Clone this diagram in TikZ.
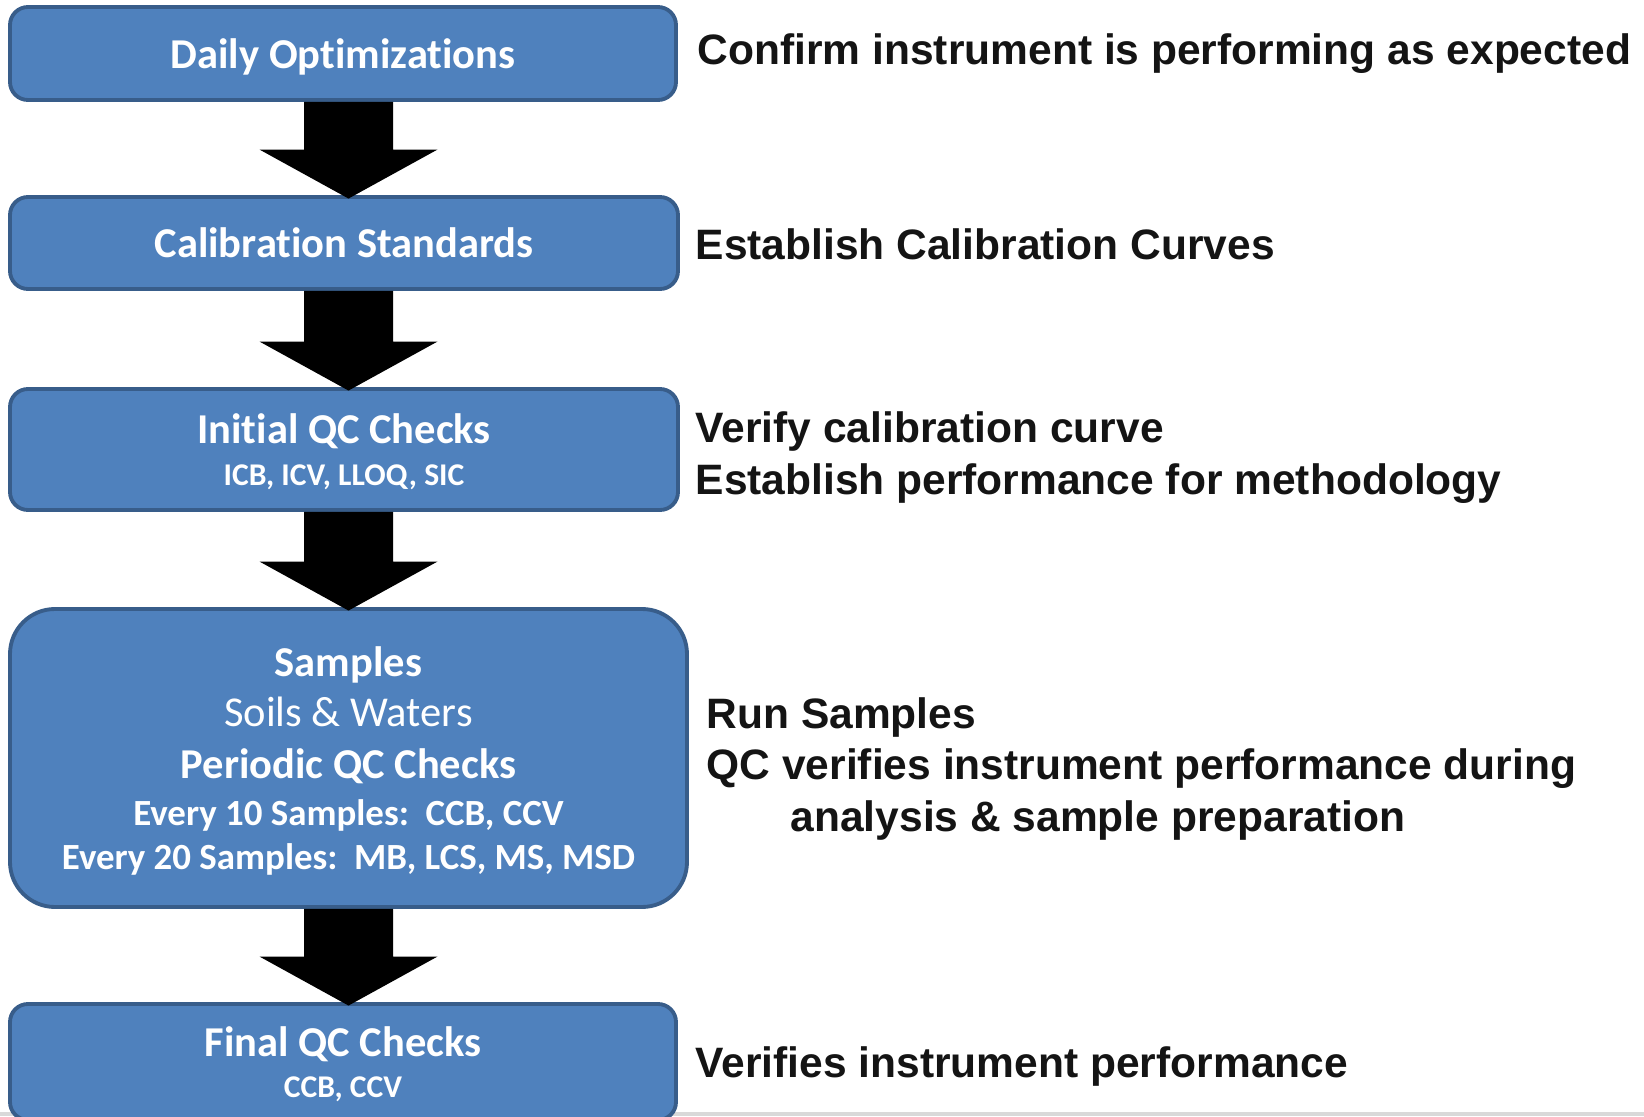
\documentclass[tikz,border=0pt]{standalone}
\usepackage{fontspec}
\usetikzlibrary{positioning, calc}
\newfontfamily\calibrifont[Ligatures=NoCommon]{Carlito}
\newfontfamily\arialfont{Liberation Sans}
\definecolor{boxfill}{HTML}{4F81BD}
\definecolor{boxedge}{HTML}{385D8A}
\definecolor{notegray}{HTML}{141414}
\definecolor{rulegray}{HTML}{D9D9D9}
\newcommand\boxtitle{\calibrifont\bfseries\fontsize{12.1}{14.5}\selectfont}
\newcommand\boxplain{\calibrifont\mdseries\fontsize{12.1}{14.5}\selectfont}
\newcommand\boxmid{\calibrifont\bfseries\fontsize{10.5}{12.5}\selectfont}
\newcommand\boxsmall{\calibrifont\bfseries\fontsize{9}{11}\selectfont}
\newcommand\notefont{\arialfont\bfseries\fontsize{12.1}{14.6}\selectfont}
\tikzset{
  stepbox/.style={
    rectangle,
    rounded corners = 0.18cm,
    draw = boxedge,
    fill = boxfill,
    line width = 1.1pt,
    text = white,
    align = center,
    inner sep = 0,
    text depth = 0pt,
    font = \boxtitle
  },
  notetext/.style={
    anchor = west,
    align = left,
    inner sep = 0,
    text = notegray,
    font = \notefont
  },
  blockarrow/.style={
    fill = black
  }
}
\newcommand{\flowarrow}[2]{%
  \path (axis |- #2.north) ++(0,-0.035) coordinate (tip) ++(0,0.49) coordinate (hb);
  \fill[blockarrow] ($(axis |- #1.south)+(-0.445,0)$) -- ($(hb)+(-0.445,0)$)
    -- ($(hb)+(-0.89,0)$) -- (tip) -- ($(hb)+(0.89,0)$)
    -- ($(hb)+(0.445,0)$) -- ($(axis |- #1.south)+(0.445,0)$) -- cycle;
}

\begin{document}
\begin{tikzpicture}
    \useasboundingbox (0,0) rectangle (16.44,-11.17);
    \clip (0,0) rectangle (16.44,-11.17);
    \coordinate (axis) at (3.485, 0);
    \coordinate (dailypos) at (3.43, -0.535);
    \coordinate (calibpos) at (3.44, -2.43);
    \coordinate (initpos) at (3.44, -4.475);
    \coordinate (samplepos) at (3.485, -7.58);
    \coordinate (finalpos) at (3.43, -10.62);
    \draw[rulegray, line width = 0.04cm] (0,-11.14) -- (16.44,-11.14);

    \node (daily) at (dailypos)[stepbox, minimum width = 6.66cm, minimum height = 0.93cm]{Daily Optimizations};
    \node (calib) at (calibpos)[stepbox, minimum width = 6.68cm, minimum height = 0.92cm]{Calibration Standards};
    \node (init) at (initpos)[stepbox, minimum width = 6.68cm, minimum height = 1.21cm, yshift = -0.02cm]{%
      Initial QC Checks\\[-2.7pt]{\boxsmall ICB, ICV, LLOQ, SIC}};
    \node (samples) at (samplepos)[stepbox, rounded corners = 0.45cm, minimum width = 6.77cm, minimum height = 2.98cm]{%
      Samples\\[-0.3pt]{\boxplain Soils \& Waters}\\[0.3pt]Periodic QC Checks\\[-1.3pt]%
      {\boxmid Every 10 Samples:\ \ CCB, CCV}\\[-2pt]{\boxmid Every 20 Samples:\ \ MB, LCS, MS, MSD}};
    \node (final) at (finalpos)[stepbox, minimum width = 6.66cm, minimum height = 1.16cm]{%
      Final QC Checks\\[-2.9pt]{\boxsmall CCB, CCV}};

    \flowarrow{daily}{calib}
    \flowarrow{calib}{init}
    \flowarrow{init}{samples}
    \flowarrow{samples}{final}

    \node (dailynote) at (6.97, -0.54)[notetext]{Confirm instrument is performing as expected};
    \node (calibnote) at (6.95, -2.44)[notetext]{Establish Calibration Curves};
    \node (initnote) at (6.95, -4.575)[notetext]{Verify calibration curve\\Establish performance for methodology};
    \node (samplenote) at (7.06, -7.69)[notetext]{Run Samples\\QC verifies instrument performance during\\\hspace*{0.84cm}analysis \& sample preparation};
    \node (finalnote) at (6.95, -10.67)[notetext]{Verifies instrument performance};
\end{tikzpicture}
\end{document}
